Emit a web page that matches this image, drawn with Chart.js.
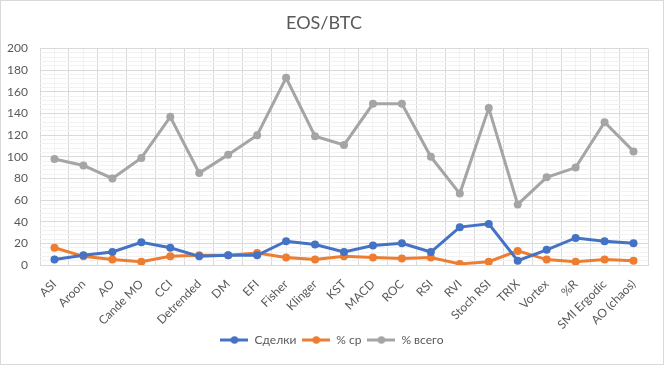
<!DOCTYPE html>
<html>
<head>
<meta charset="utf-8">
<script src="https://cdn.jsdelivr.net/npm/chart.js@4"></script>
<style>
  html, body { margin: 0; padding: 0; background: #fff; }
  canvas { display: block; }
</style>
</head>
<body>
<canvas id="chart" width="664" height="365"></canvas>
<script>
const labels = ['ASI', 'Aroon', 'AO', 'Cande MO', 'CCI', 'Detrended', 'DM', 'EFI', 'Fisher', 'Klinger',
  'KST', 'MACD', 'ROC', 'RSI', 'RVI', 'Stoch RSI', 'TRIX', 'Vortex', '%R', 'SMI Ergodic', 'AO (chaos)'];
const deals = [5, 9, 12, 21, 16, 8, 9, 9, 22, 19, 12, 18, 20, 12, 35, 38, 4, 14, 25, 22, 20];
const pctAvg = [16, 8, 5, 3, 8, 9, 9, 11, 7, 5, 8, 7, 6, 7, 1, 3, 13, 5, 3, 5, 4];
const pctTotal = [98, 92, 80, 99, 137, 85, 102, 120, 173, 119, 111, 149, 149, 100, 66, 145, 56, 81, 90, 132, 105];
const seriesNames = ['Сделки', '% ср', '% всего'];
const colors = ['#4472C4', '#ED7D31', '#A5A5A5'];
const yMin = 0, yMax = 200, yMajor = 20, yMinor = 4;

const font = 'Lato, "Noto Sans", sans-serif';
const textColor = '#595959';

function marker(color) {
  const c = document.createElement('canvas');
  c.width = 28; c.height = 10;
  const g = c.getContext('2d');
  g.strokeStyle = color; g.lineWidth = 3;
  g.beginPath(); g.moveTo(0, 5); g.lineTo(28, 5); g.stroke();
  g.fillStyle = color;
  g.beginPath(); g.arc(14, 5, 3.8, 0, Math.PI * 2); g.fill();
  return c;
}
const markers = colors.map(marker);

// white background, thin frame, legend pinned near the bottom
const frame = {
  id: 'frame',
  beforeDraw(chart) {
    const c = chart.ctx;
    c.save();
    c.fillStyle = '#fff';
    c.fillRect(0, 0, chart.width, chart.height);
    c.strokeStyle = '#D9D9D9';
    c.lineWidth = 1;
    c.strokeRect(0.5, 0.5, chart.width - 1, chart.height - 1);
    c.restore();
  },
  afterLayout(chart) {
    const l = chart.legend;
    const h = l.bottom - l.top;
    l.left += 8; l.right += 8;
    l.top = 328; l.bottom = 328 + h;
  }
};

function makeSet(data, i) {
  return {
    label: seriesNames[i],
    data: data,
    borderColor: colors[i],
    backgroundColor: colors[i],
    borderWidth: 3,
    pointRadius: 4,
    pointHoverRadius: 4,
    pointBorderWidth: 0,
    tension: 0
  };
}

new Chart(document.getElementById('chart'), {
  type: 'line',
  data: {
    labels: labels,
    datasets: [makeSet(deals, 0), makeSet(pctAvg, 1), makeSet(pctTotal, 2)]
  },
  options: {
    responsive: false,
    animation: false,
    devicePixelRatio: 1,
    layout: { padding: { left: 0, right: 16, top: 0, bottom: 0 } },
    plugins: {
      title: {
        display: true,
        text: 'EOS/BTC',
        color: textColor,
        font: { family: font, size: 18, weight: 'normal' },
        padding: { top: 12, bottom: 15 }
      },
      legend: {
        position: 'bottom',
        labels: {
          usePointStyle: true,
          pointStyleWidth: 28,
          padding: 6,
          color: textColor,
          font: { family: font, size: 12 },
          generateLabels: (chart) => Chart.defaults.plugins.legend.labels.generateLabels(chart)
            .map((it, i) => Object.assign(it, { pointStyle: markers[i] }))
        }
      },
      tooltip: { enabled: false }
    },
    scales: {
      x: {
        offset: true,
        grid: { offset: true, color: '#D9D9D9', drawTicks: false },
        border: { color: '#D9D9D9' },
        ticks: {
          color: textColor,
          font: { family: font, size: 12 },
          maxRotation: 45, minRotation: 45,
          autoSkip: false,
          padding: 12
        },
        afterFit: (s) => { s.height = 72; }
      },
      x2: {
        type: 'category',
        labels: labels,
        position: 'bottom',
        offset: true,
        grid: { offset: false, color: '#F2F2F2', drawTicks: false },
        border: { display: false },
        ticks: { display: false },
        afterFit: (s) => { s.height = 0; }
      },
      y: {
        min: yMin,
        max: yMax,
        grid: {
          drawTicks: false,
          color: (c) => (c.tick && c.tick.value % yMajor === 0) ? '#D9D9D9' : '#F2F2F2'
        },
        border: { display: false },
        ticks: {
          stepSize: yMinor,
          autoSkip: false,
          padding: 12,
          color: textColor,
          font: { family: font, size: 12 },
          callback: (v) => (v % yMajor === 0 ? String(v) : '')
        },
        afterFit: (s) => { s.width = 40; }
      }
    }
  },
  plugins: [frame]
});
</script>
</body>
</html>
